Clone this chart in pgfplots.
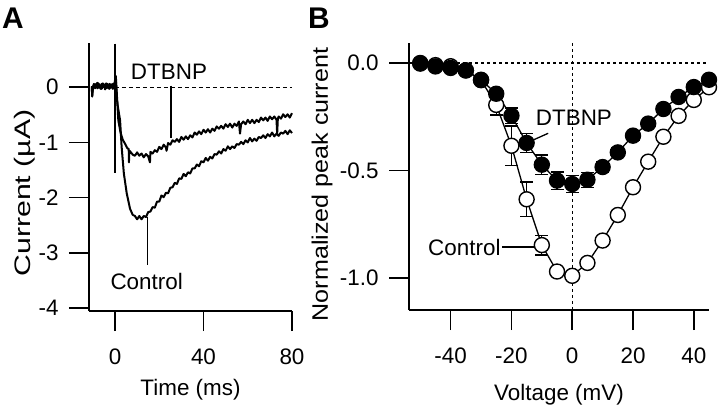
\documentclass[border=0pt]{standalone}
\usepackage{fontspec}
\setmainfont{Liberation Sans}
\usepackage{pgfplots}
\pgfplotsset{compat=1.18}

\pgfplotstableread{
x y e
-50 0.0 0.01
-45 -0.01 0.01
-40 -0.015 0.01
-35 -0.035 0.01
-30 -0.08 0.02
-25 -0.195 0.047
-20 -0.385 0.092
-15 -0.634 0.08
-10 -0.847 0.046
-5 -0.97 0.015
0 -0.99 0.015
5 -0.93 0.015
10 -0.826 0.015
15 -0.707 0.02
20 -0.578 0.02
25 -0.459 0.02
30 -0.343 0.015
35 -0.246 0.015
40 -0.172 0.01
45 -0.113 0.01
}\ctrlIV

\pgfplotstableread{
x y e
-50 -0.003 0.01
-45 -0.016 0.01
-40 -0.023 0.01
-35 -0.034 0.01
-30 -0.078 0.015
-25 -0.143 0.02
-20 -0.245 0.035
-15 -0.372 0.045
-10 -0.473 0.045
-5 -0.547 0.04
0 -0.563 0.04
5 -0.543 0.035
10 -0.484 0.027
15 -0.416 0.02
20 -0.338 0.02
25 -0.282 0.015
30 -0.214 0.015
35 -0.158 0.01
40 -0.112 0.01
45 -0.078 0.01
}\dtbnpIV

\begin{document}
\begin{tikzpicture}[font=\fontsize{22.5}{27}\selectfont]
\useasboundingbox (0,0) rectangle (720bp,408bp);
\pgfplotsset{
  myaxis/.style={
    scale only axis,
    axis x line*=bottom,
    axis y line*=left,
    axis line style={line width=1.5bp, -},
    tick align=outside,
    major tick length=20bp,
    every tick/.style={line width=1.5bp, black},
    /pgf/number format/assume math mode=true,
    clip=false,
    xticklabel style={yshift=-14bp},
    yticklabel style={xshift=-7bp},
    xlabel style={anchor=center},
    ylabel style={anchor=center},
  }
}
\node[font=\fontsize{30}{34}\selectfont\bfseries] at (13bp,390bp) {A};
\node[font=\fontsize{30}{34}\selectfont\bfseries] at (319bp,390bp) {B};

% ---------------- Panel A ----------------
\begin{axis}[myaxis,
  at={(89bp,97bp)}, anchor=south west,
  width=203bp, height=268bp,
  xmin=-11.75, xmax=80, ymin=-4.05, ymax=0.8,
  xtick={0,40,80}, ytick={0,-1,-2,-3,-4},
  xlabel={Time (ms)}, ylabel={Current (µA)},
  xlabel style={at={(axis description cs:0.5,-0.295)}},
  ylabel style={at={(axis description cs:-0.315,0.44)}, xscale=1.35},
]
\addplot[black, line width=1bp, dash pattern=on 4bp off 3bp] coordinates {(0,0) (80,0)};
\addplot[black, line width=1.3bp] coordinates {(0,0.79) (0,-1.55)};
% Control trace
\addplot[black, line width=2bp, line join=round] coordinates {
(-10.5,0.0) (-10.3,-0.17) (-10,-0.03) (-9.5,0.05) (-9,0.0) (-8.5,0.06) (-8,-0.02) (-7.5,0.07)
(-7,0.01) (-6.5,-0.03) (-6,0.06) (-5.5,0.0) (-5,0.05) (-4.5,-0.04) (-4,0.07) (-3.5,0.01)
(-3,-0.02) (-2.5,0.06) (-2,-0.01) (-1.5,0.05) (-1,-0.03) (-0.5,0.04) (0,0.1) (0.4,0.2)
(0.8,-0.2) (1.3,-0.35) (2.3,-0.6) (3,-1.08) (4,-1.56) (5.3,-1.92) (6.8,-2.2) (8,-2.31)
(9,-2.33) (10,-2.39) (11,-2.33) (12,-2.39) (13,-2.33) (14,-2.35) (15,-2.26) (16,-2.25)
(17,-2.17) (18,-2.18) (19,-2.07) (20,-2.07) (21,-1.96) (22,-1.99) (23,-1.91) (24,-1.92)
(25,-1.82) (26,-1.81) (27,-1.73) (28,-1.75) (29,-1.65) (30,-1.66) (31,-1.57) (32,-1.61)
(33,-1.54) (34,-1.56) (35,-1.47) (36,-1.47) (37,-1.40) (38,-1.43) (39,-1.34) (40,-1.36)
(41,-1.28) (42,-1.33) (43,-1.26) (44,-1.29) (45,-1.21) (46,-1.22) (47,-1.16) (48,-1.20)
(49,-1.12) (50,-1.15) (51,-1.07) (52,-1.12) (53,-1.07) (54,-1.10) (55,-1.03) (56,-1.04)
(57,-0.99) (58,-1.03) (59,-0.96) (60,-1.00) (61,-0.92) (62,-0.98) (63,-0.93) (64,-0.97)
(65,-0.90) (66,-0.92) (67,-0.87) (68,-0.92) (69,-0.85) (70,-0.89) (71,-0.82) (72,-0.89)
(73,-0.84) (74,-0.88) (75,-0.82) (76,-0.84) (77,-0.79) (78,-0.85) (79,-0.78) (80,-0.83)
};
% DTBNP trace
\addplot[black, line width=2bp, line join=round] coordinates {
(-10.5,0.02) (-10.3,-0.15) (-10,0.0) (-9.5,0.06) (-9,-0.02) (-8.5,0.04) (-8,0.08) (-7.5,-0.01)
(-7,0.05) (-6.5,0.02) (-6,-0.03) (-5.5,0.07) (-5,0.01) (-4.5,0.05) (-4,-0.02) (-3.5,0.06)
(-3,0.03) (-2.5,-0.03) (-2,0.05) (-1.5,0.0) (-1,0.06) (-0.5,-0.02) (0,0.12) (0.3,0.18)
(0.8,-0.1) (1.5,-0.6) (2.5,-0.82) (3.5,-0.95) (4.5,-1.02) (5.5,-1.1) (6.2,-1.12) (6.3,-1.36)
(6.5,-1.15) (7,-1.17) (8,-1.22) (9,-1.24) (10,-1.18) (11,-1.24) (12,-1.20) (13,-1.27)
(14,-1.21) (15,-1.25) (15.8,-1.36) (16,-1.17) (17,-1.20) (18,-1.14) (19,-1.17) (20,-1.08)
(21,-1.12) (22,-1.04) (23,-1.09) (23.3,-1.15) (24,-1.01) (25,-1.04) (26,-0.96) (27,-0.99)
(28,-0.94) (29,-0.99) (30,-0.90) (31,-0.95) (32,-0.89) (33,-0.94) (34,-0.87) (35,-0.91)
(36,-0.82) (37,-0.86) (38,-0.80) (39,-0.85) (40,-0.77) (41,-0.82) (42,-0.76) (43,-0.82)
(44,-0.75) (45,-0.79) (46,-0.71) (47,-0.75) (48,-0.70) (49,-0.75) (50,-0.67) (51,-0.72)
(52,-0.66) (53,-0.73) (54,-0.66) (55,-0.70) (56,-0.62) (56.5,-0.84) (57,-0.67) (58,-0.62)
(59,-0.67) (60,-0.59) (61,-0.65) (62,-0.59) (63,-0.65) (64,-0.59) (65,-0.63) (66,-0.55)
(67,-0.60) (68,-0.55) (69,-0.61) (70,-0.53) (71,-0.58) (72,-0.53) (73,-0.59) (73.3,-0.84)
(73.6,-0.57) (74,-0.53) (75,-0.57) (76,-0.49) (77,-0.54) (78,-0.49) (79,-0.55) (80,-0.47)
};
% pointers
\addplot[black, line width=1.3bp] coordinates {(25.3,0.03) (25.3,-0.92)};
\addplot[black, line width=1.3bp] coordinates {(14.8,-2.35) (14.8,-3.22)};
\node at (axis cs:24.4,0.28) {DTBNP};
\node at (axis cs:14.3,-3.52) {Control};
\end{axis}

% ---------------- Panel B ----------------
\begin{axis}[myaxis,
  at={(409bp,98bp)}, anchor=south west,
  width=300bp, height=267bp,
  xmin=-53.7, xmax=45, ymin=-1.149, ymax=0.093,
  xtick={-40,-20,0,20,40}, ytick={0,-0.5,-1},
  yticklabel style={/pgf/number format/.cd, fixed, fixed zerofill, precision=1},
  xlabel={Voltage (mV)}, ylabel={Normalized peak current},
  xlabel style={at={(axis description cs:0.5,-0.318)}},
  ylabel style={at={(axis description cs:-0.29,0.47)}, xscale=1.12},
]
\addplot[black, line width=1.1bp, dash pattern=on 3bp off 3bp] coordinates {(-53.7,0) (45,0)};
\addplot[black, line width=1.1bp, dash pattern=on 3bp off 3bp] coordinates {(0,0.093) (0,-1.149)};
% Control
\addplot[black, line width=1.3bp, mark=*, mark size=7.5bp,
  mark options={fill=white, draw=black, line width=1.4bp},
  error bars/.cd, y dir=both, y explicit,
  error bar style={line width=1.3bp, black},
  error mark options={rotate=90, mark size=6.5bp, line width=1.3bp, black}]
  table[x=x, y=y, y error=e] {\ctrlIV};
% DTBNP
\addplot[black, line width=1.3bp, mark=*, mark size=7.5bp,
  mark options={fill=black, draw=black, line width=1.4bp},
  error bars/.cd, y dir=both, y explicit,
  error bar style={line width=1.3bp, black},
  error mark options={rotate=90, mark size=6.5bp, line width=1.3bp, black}]
  table[x=x, y=y, y error=e] {\dtbnpIV};
% annotations
\addplot[black, line width=1.3bp] coordinates {(-12.8,-0.358) (-7.9,-0.327)};
\addplot[black, line width=1.3bp] coordinates {(-23.1,-0.856) (-11.9,-0.856)};
\node at (axis cs:0.56,-0.254) {DTBNP};
\node[anchor=east, inner sep=1bp] at (axis cs:-23.2,-0.856) {Control};
\end{axis}
\end{tikzpicture}
\end{document}
